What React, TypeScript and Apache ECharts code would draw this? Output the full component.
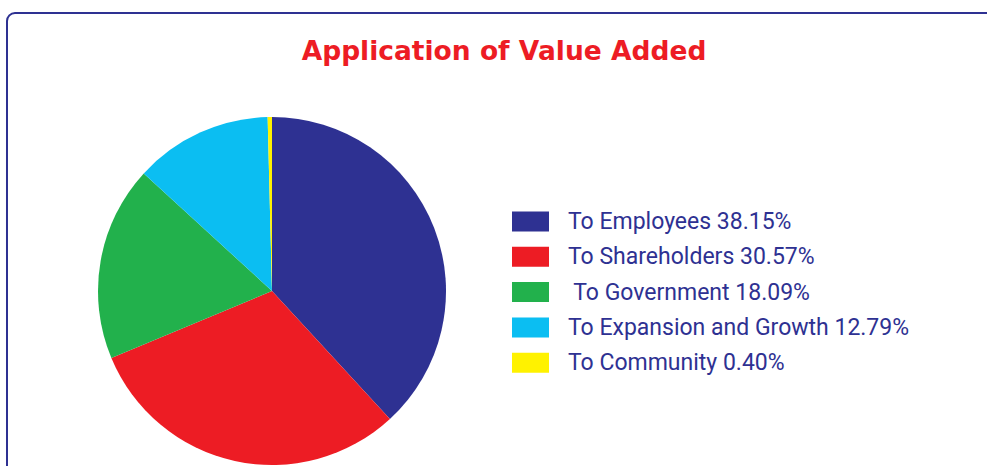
import React, { useEffect, useRef } from "react";
import * as echarts from "echarts";

const categories = [
  "To Employees 38.15%",
  "To Shareholders 30.57%",
  " To Government 18.09%",
  "To Expansion and Growth 12.79%",
  "To Community 0.40%",
];
const values = [38.15, 30.57, 18.09, 12.79, 0.4];
const colors = ["#2e3192", "#ed1c24", "#22b14c", "#0bbef2", "#fff200"];

export default function App() {
  const ref = useRef<HTMLDivElement>(null);
  useEffect(() => {
    if (!ref.current) return;
    const chart = echarts.init(ref.current, null, { renderer: "svg" });
    chart.setOption({
      animation: false,
      backgroundColor: "#ffffff",
      title: {
        text: "Application of Value Added",
        left: 499,
        textAlign: "center",
        top: 32,
        textStyle: {
          color: "#ed1c24",
          fontSize: 26.5,
          fontWeight: "bold",
          fontFamily: "DejaVu Sans",
        },
      },
      graphic: [
        {
          type: "rect",
          shape: { x: 7, y: 13, width: 1000, height: 480, r: 8 },
          style: { fill: "none", stroke: "#2e3192", lineWidth: 2 },
          z: -1,
        },
      ],
      legend: {
        orient: "vertical",
        left: 507,
        top: 205,
        itemWidth: 37,
        itemHeight: 20,
        itemGap: 12.3,
        icon: "rect",
        selectedMode: false,
        textStyle: {
          color: "#2e3192",
          fontSize: 23,
          fontFamily: "Roboto",
          lineHeight: 20,
          padding: [0, 0, 0, 14],
        },
        data: categories,
      },
      series: [
        {
          type: "pie",
          center: [272, 291],
          radius: 174,
          startAngle: 90,
          clockwise: true,
          label: { show: false },
          labelLine: { show: false },
          emphasis: { disabled: true },
          itemStyle: { borderWidth: 0 },
          data: categories.map((name, i) => ({
            name,
            value: values[i],
            itemStyle: { color: colors[i] },
          })),
        },
      ],
    });
    return () => chart.dispose();
  }, []);
  return (
    <div
      ref={ref}
      style={{ position: "fixed", left: 0, top: 0, width: 987, height: 466 }}
    />
  );
}
